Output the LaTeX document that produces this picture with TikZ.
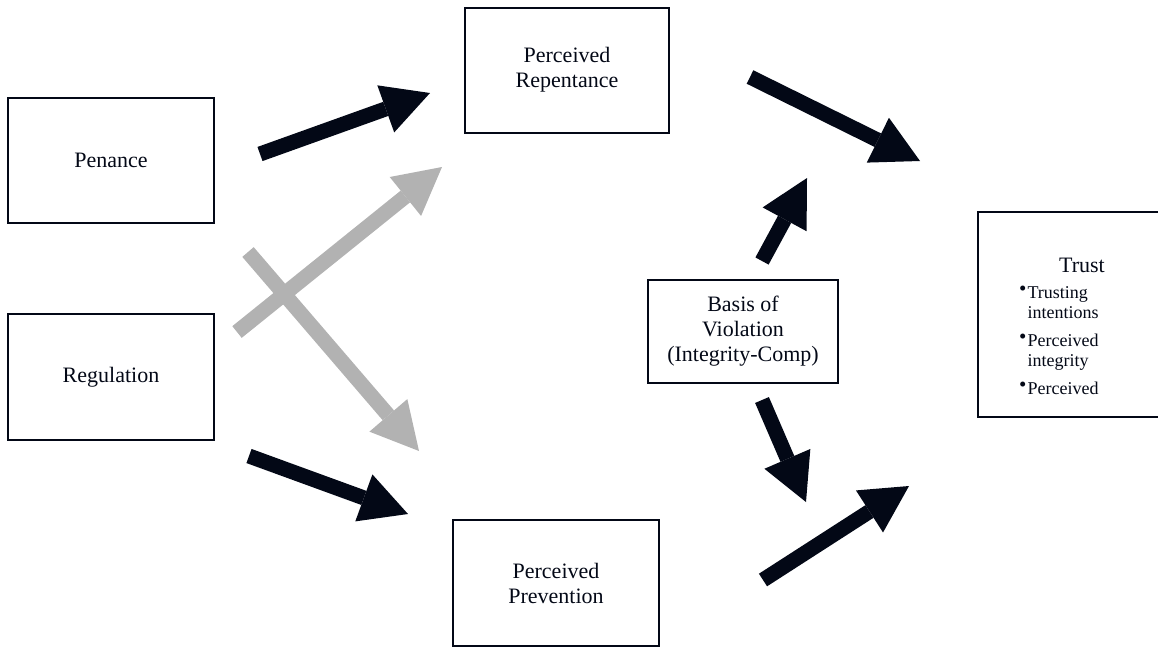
\documentclass[tikz,border=0pt]{standalone}
\usepackage{fontspec}
\setmainfont{Liberation Serif}
\usepackage{tikz}
\usetikzlibrary{arrows.meta}
\definecolor{inkblue}{RGB}{3,8,22}
\definecolor{softgray}{RGB}{178,178,178}
\newcommand{\blt}{\raisebox{2.5pt}{\fontsize{21}{21}\selectfont\textbullet}}

\begin{document}
\begin{tikzpicture}[x=1pt, y=-1pt,
        every node/.style = {text=inkblue, font=\fontsize{22}{25}\selectfont},
        box/.style = {shape=rectangle, draw=inkblue, line width=2pt, align=center, inner sep=0pt},
        bigarrow/.style = {line width=15pt, -{Triangle[width=50pt,length=47pt,line width=0pt]}},
        darkarrow/.style = {bigarrow, draw=inkblue},
        greyarrow/.style = {bigarrow, draw=softgray}]
        \useasboundingbox (0,0) rectangle (1158,649);

        \node [box, minimum width=206pt, minimum height=125pt] (penance) at (111,160) {Penance};
        \node [box, minimum width=206pt, minimum height=126pt] (regulation) at (111,377) {Regulation};
        \node [box, minimum width=204pt, minimum height=125pt] (repentance) at (567,70) {Perceived\\Repentance};
        \node [box, minimum width=206pt, minimum height=126pt] (prevention) at (556,583) {Perceived\\Prevention};
        \node [box, minimum width=190pt, minimum height=103pt] (basis) at (743,331.5) {Basis of\\Violation\\(Integrity-Comp)};
        \node [box, minimum width=186pt, minimum height=205pt] (trust) at (1071,314.5) {};
        \node (trusttitle) at (1082,265) {Trust};
        \node [anchor=north west, inner sep=0pt, font=\fontsize{18}{20}\selectfont] (trustlist) at (1019,284)
            {\begin{tabular}{@{}l@{\hspace{1pt}}l@{}}
                \blt & Trusting\\
                     & intentions\\[8pt]
                \blt & Perceived\\
                     & integrity\\[8pt]
                \blt & Perceived
            \end{tabular}};

        % arrow ends
        \coordinate (penA) at (260,154);  \coordinate (repA) at (430,93);
        \coordinate (regA) at (237,332);  \coordinate (repB) at (442,167);
        \coordinate (penB) at (248,252);  \coordinate (prevA) at (419,451);
        \coordinate (regB) at (249,456);  \coordinate (prevB) at (408,514);
        \coordinate (repC) at (750,77);   \coordinate (trustA) at (920,161);
        \coordinate (basisA) at (762,261); \coordinate (basisUp) at (807,178);
        \coordinate (basisB) at (762,400); \coordinate (basisDown) at (806,502);
        \coordinate (prevC) at (763,580); \coordinate (trustB) at (909,486);

        \draw [greyarrow] (regA) -- (repB);
        \draw [greyarrow] (penB) -- (prevA);
        \draw [darkarrow] (penA) -- (repA);
        \draw [darkarrow] (regB) -- (prevB);
        \draw [darkarrow] (repC) -- (trustA);
        \draw [darkarrow] (basisA) -- (basisUp);
        \draw [darkarrow] (basisB) -- (basisDown);
        \draw [darkarrow] (prevC) -- (trustB);
\end{tikzpicture}
\end{document}
